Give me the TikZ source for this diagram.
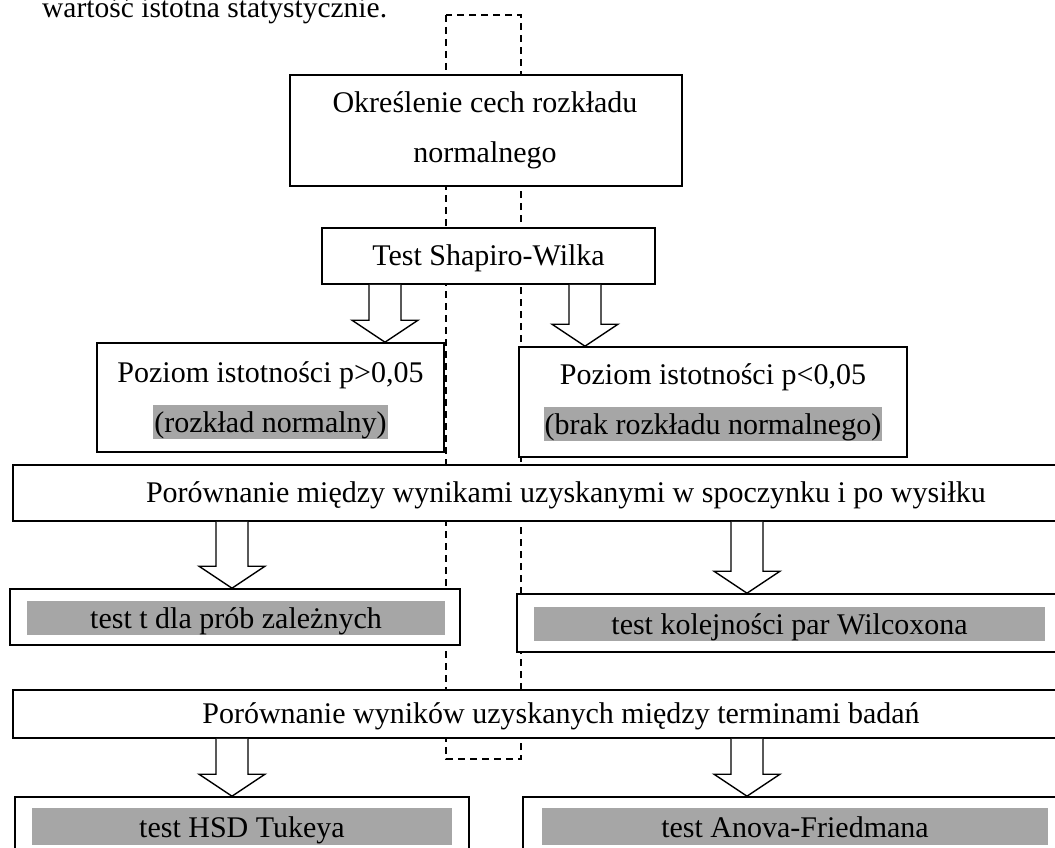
\documentclass[tikz,border=0pt]{standalone}
\usepackage{fontspec}
\setmainfont{Liberation Serif}
\usetikzlibrary{calc}
\definecolor{hl}{RGB}{166,166,166}
\newcommand\fz{\fontsize{30}{36}\selectfont}
\newcommand\blockarrow[2]{%
  \draw[blockarr] let \p1=(#1), \p2=(#2) in
    ({\x1-16pt},\y1) -- ({\x1-16pt},{\y2+22pt}) -- ({\x1-33pt},{\y2+22pt}) -- (\x1,\y2)
    -- ({\x1+33pt},{\y2+22pt}) -- ({\x1+16pt},{\y2+22pt}) -- ({\x1+16pt},\y1);}
\tikzset{
  frame/.style={draw=black, line width=1.6pt, fill=white, inner sep=0pt},
  txt/.style={font=\fz, inner sep=0pt, anchor=base},
  hlbar/.style={font=\fz, fill=hl, inner xsep=1pt, inner ysep=0pt, text height=27pt, text depth=7pt, anchor=base},
  blockarr/.style={draw=black, line width=1.4pt, fill=white, line join=miter},
  dashbox/.style={draw=black, line width=1.3pt, dash pattern=on 7pt off 5pt}
}
\begin{document}
\begin{tikzpicture}[x=1pt,y=-1pt]
\useasboundingbox (0,0) rectangle (1055,848);
\clip (0,0) rectangle (1055,848);
% top text (cut off)
\node[txt, anchor=base west, font=\fontsize{29.5}{35}\selectfont] (top) at (42,18) {wartość istotna statystycznie.};
% dashed rectangle behind everything
\draw[dashbox] (446,15) rectangle (521,759);
% boxes
\node[frame, minimum width=392pt, minimum height=111pt] (b1) at (486,130.5) {};
\node[txt] (b1t1) at (485,113) {Określenie cech rozkładu};
\node[txt] (b1t2) at (485,162) {normalnego};
\node[frame, minimum width=333pt, minimum height=56pt] (b2) at (488.5,256) {};
\node[txt] (b2t) at (488.5,265) {Test Shapiro-Wilka};
\node[frame, minimum width=347pt, minimum height=109pt] (b3l) at (270.5,397.5) {};
\node[txt] (b3lt1) at (270.5,382) {Poziom istotności p>0,05};
\node[hlbar] (b3lt2) at (270.5,432) {(rozkład normalny)};
\node[frame, minimum width=388pt, minimum height=110pt] (b3r) at (713,402) {};
\node[txt] (b3rt1) at (713,384) {Poziom istotności p<0,05};
\node[hlbar] (b3rt2) at (713,434) {(brak rozkładu normalnego)};
\node[frame, minimum width=1080pt, minimum height=56pt] (w1) at (553,493) {};
\node[txt] (w1t) at (566,502) {Porównanie między wynikami uzyskanymi w spoczynku i po wysiłku};
\node[frame, minimum width=450pt, minimum height=56pt] (tt) at (235,617) {};
\node[hlbar, minimum width=418pt] (ttt) at (236,628) {test t dla prób zależnych};
\node[frame, minimum width=543pt, minimum height=58pt] (tk) at (788.5,623) {};
\node[hlbar, minimum width=511pt] (tkt) at (789.5,634) {test kolejności par Wilcoxona};
\node[frame, minimum width=1080pt, minimum height=48pt] (w2) at (553,714) {};
\node[txt] (w2t) at (561,723) {Porównanie wyników uzyskanych między terminami badań};
\node[frame, minimum width=454pt, minimum height=78pt] (hsd) at (242,836) {};
\node[hlbar, minimum width=420pt, text height=29pt, text depth=8pt] (hsdt) at (242,837) {test HSD Tukeya};
\node[frame, minimum width=542pt, minimum height=78pt] (an) at (794,836) {};
\node[hlbar, minimum width=506pt, text height=29pt, text depth=8pt] (ant) at (795,837) {test Anova-Friedmana};
% arrow x positions
\coordinate (xa) at (385,0);
\coordinate (xb) at (585,0);
\coordinate (xc) at (232,0);
\coordinate (xd) at (747,0);
\blockarrow{b2.south -| xa}{b3l.north -| xa}
\blockarrow{b2.south -| xb}{b3r.north -| xb}
\blockarrow{w1.south -| xc}{tt.north -| xc}
\blockarrow{w1.south -| xd}{tk.north -| xd}
\blockarrow{w2.south -| xc}{hsd.north -| xc}
\blockarrow{w2.south -| xd}{an.north -| xd}
\end{tikzpicture}
\end{document}
